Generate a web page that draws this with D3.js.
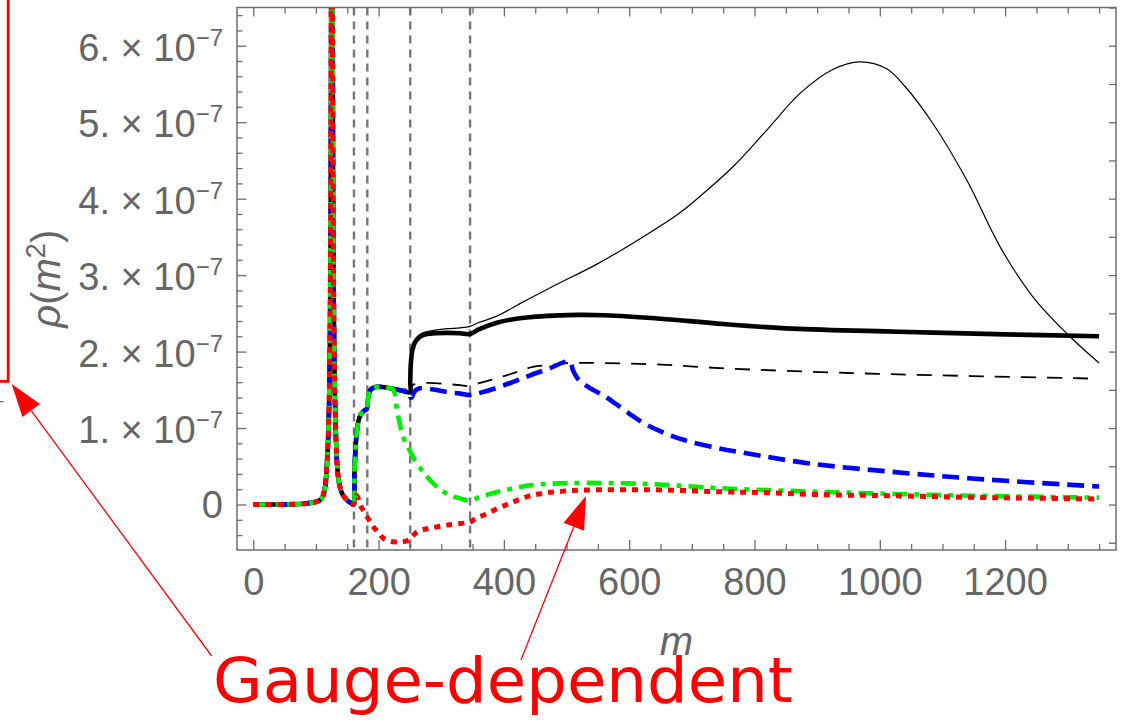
<!DOCTYPE html>
<html><head><meta charset="utf-8">
<script src="https://cdn.jsdelivr.net/npm/d3@7"></script>
<style>body{margin:0;background:#fff}svg{display:block}</style>
</head><body>
<svg id="c" width="1124" height="723"></svg>
<script>
// ---------- data (values of rho in units of 1e-7) ----------
// shared low-m part (all curves coincide up to m = 160)
const spikeM = [0, 40, 80, 95, 105, 110, 112, 115, 117, 119, 121, 122.5, 123.5, 124.5, 125.5, 126.5, 127.5, 128.7, 130, 132, 134, 137, 141, 146, 152, 157, 160];
const spikeV = [0, 0, 0.01, 0.025, 0.05, 0.09, 0.13, 0.25, 0.45, 0.75, 1.3, 2.3, 3.8, 7, 14, 7, 3.8, 2.4, 1.5, 0.85, 0.5, 0.28, 0.16, 0.09, 0.04, 0.015, 0.0];
// shared rise of black / blue curves between m = 160 and 250
const upM = [161.5, 163, 165, 167.5, 171, 176, 181, 182.5, 184, 187, 192, 200, 212, 224, 236, 250];
const upV = [0.4, 0.7, 0.93, 1.08, 1.17, 1.22, 1.25, 1.32, 1.43, 1.50, 1.53, 1.54, 1.53, 1.51, 1.49, 1.47];
// thick solid black
const thickM = [250.5, 251.5, 254, 258, 264, 272, 290, 310, 330, 346, 360, 390, 420, 442, 480, 520, 560, 650, 750, 860, 1030, 1200, 1350];
const thickV = [1.6, 1.85, 2.02, 2.12, 2.18, 2.22, 2.24, 2.245, 2.24, 2.23, 2.29, 2.38, 2.43, 2.45, 2.47, 2.48, 2.475, 2.43, 2.36, 2.30, 2.26, 2.225, 2.20];
// thin solid black
const thinM = [250.5, 251.5, 254, 258, 264, 272, 290, 310, 330, 346, 360, 388, 431, 480, 550, 620, 680, 713, 766, 820, 873, 925, 968, 1011, 1040, 1085, 1139, 1192, 1244, 1298, 1350];
const thinV = [1.6, 1.85, 2.04, 2.15, 2.21, 2.25, 2.28, 2.30, 2.31, 2.33, 2.38, 2.46, 2.65, 2.86, 3.15, 3.49, 3.81, 4.03, 4.42, 4.90, 5.38, 5.69, 5.79, 5.70, 5.47, 4.98, 4.24, 3.37, 2.72, 2.24, 1.85];
// thin dashed black
const dashM = [251, 254, 262, 280, 310, 330, 346, 362, 388, 420, 446, 480, 505, 558, 650, 754, 950, 1147, 1350];
const dashV = [1.52, 1.56, 1.58, 1.59, 1.575, 1.56, 1.55, 1.59, 1.65, 1.73, 1.80, 1.83, 1.85, 1.85, 1.83, 1.78, 1.72, 1.68, 1.645];
// blue dashed
const blueM = [251, 253, 256, 260, 266, 290, 310, 330, 346, 362, 390, 420, 442, 470, 505, 510, 515, 522, 540, 560, 578, 600, 624, 655, 689, 740, 787, 885, 1016, 1147, 1350];
const blueV = [1.40, 1.40, 1.46, 1.50, 1.52, 1.50, 1.47, 1.45, 1.43, 1.46, 1.53, 1.62, 1.69, 1.77, 1.87, 1.76, 1.68, 1.61, 1.51, 1.42, 1.32, 1.19, 1.06, 0.94, 0.84, 0.74, 0.67, 0.54, 0.43, 0.34, 0.235];
// green dot-dashed
const greenM = [161.5, 163, 165, 167.5, 171, 176, 181, 182.5, 184, 187, 192, 200, 212, 222, 226, 229, 234, 239, 250, 261, 272, 282, 298, 314, 330, 346, 362, 388, 420, 446, 505, 624, 754, 951, 1147, 1350];
const greenV = [0.4, 0.7, 0.93, 1.08, 1.17, 1.22, 1.25, 1.32, 1.43, 1.50, 1.53, 1.54, 1.53, 1.515, 1.45, 1.26, 1.05, 0.89, 0.70, 0.54, 0.42, 0.32, 0.20, 0.12, 0.08, 0.05, 0.10, 0.16, 0.22, 0.255, 0.28, 0.27, 0.21, 0.155, 0.115, 0.09];
// red dotted
const redM = [162, 164.5, 167, 170, 175, 183, 191.5, 200, 207.5, 218, 229, 240, 250, 255, 261, 270, 282, 309, 340, 346, 356, 370, 388, 405, 420, 440, 465, 495, 530, 580, 656, 750, 820, 900, 1016, 1147, 1250, 1350];
const redV = [0.07, 0.12, 0.09, 0.0, -0.07, -0.18, -0.29, -0.37, -0.44, -0.48, -0.49, -0.485, -0.46, -0.41, -0.36, -0.33, -0.31, -0.27, -0.24, -0.23, -0.18, -0.13, -0.06, 0.0, 0.05, 0.11, 0.15, 0.175, 0.19, 0.192, 0.19, 0.165, 0.155, 0.13, 0.115, 0.094, 0.082, 0.072];
// vertical threshold lines (m)
const thresholds = [160.7, 182, 250.5, 346];
// tick labels
const xTickValues = [0, 200, 400, 600, 800, 1000, 1200];
const yTickValues = [0, 1, 2, 3, 4, 5, 6];
const yTickMantissa = ["0", "1.", "2.", "3.", "4.", "5.", "6."];
const yTickExponent = "−7";
const xTitle = "m";
const annotationText = "Gauge-dependent";

// ---------- setup ----------
const svg = d3.select("#c");
const L = 237, R = 1116, T = 7.5, B = 550;
const x = d3.scaleLinear().domain([-26, 1377]).range([L, R]);
const y = d3.scaleLinear().domain([-0.595, 6.5]).range([B, T]);
const gray = "#6c6c6c", txt = "#666666";
const tickFont = "'Liberation Sans', Arial, sans-serif";

const zip = (a, b) => a.map((m, i) => [m, b[i]]);
const base = zip(spikeM, spikeV);
const up = zip(upM, upV);
const series = [
  {pts: base.concat(up, zip(thinM, thinV)), color: "#000", w: 1.2, dash: null},
  {pts: base.concat(up, zip(dashM, dashV)), color: "#000", w: 1.8, dash: "15,11"},
  {pts: base.concat(up, zip(thickM, thickV)), color: "#000", w: 4.6, dash: null},
  {pts: base.concat(up, zip(blueM, blueV)), color: "#0000ff", w: 4.6, dash: "17,8"},
  {pts: base.concat(zip(greenM, greenV)), color: "#00ee00", w: 4.6, dash: "15,7,5,7"},
  {pts: base.concat(zip(redM, redV)), color: "#ff0000", w: 5, dash: "6,6"}
];

svg.append("defs").append("clipPath").attr("id", "plot")
  .append("rect").attr("x", L).attr("y", T).attr("width", R - L).attr("height", B - T);

// ---------- threshold lines ----------
svg.append("g").selectAll("line").data(thresholds).join("line")
  .attr("x1", d => x(d)).attr("x2", d => x(d)).attr("y1", T).attr("y2", B)
  .attr("stroke", "#777").attr("stroke-width", 2.4).attr("stroke-dasharray", "8,6");

// ---------- curves ----------
const line = d3.line().x(d => x(d[0])).y(d => y(d[1])).curve(d3.curveCatmullRom.alpha(0.5));
svg.append("g").attr("clip-path", "url(#plot)").selectAll("path").data(series).join("path")
  .attr("d", d => line(d.pts)).attr("fill", "none")
  .attr("stroke", d => d.color).attr("stroke-width", d => d.w)
  .attr("stroke-dasharray", d => d.dash).attr("stroke-linejoin", "round");

// ---------- frame & ticks ----------
const xMinor = d3.range(50, 1351, 50).filter(v => v % 200 !== 0);
const yMinor = d3.range(-0.4, 6.41, 0.2).map(v => +v.toFixed(1)).filter(v => Math.abs(v - Math.round(v)) > 1e-6);
const yRight = d3.range(-0.5, 6.51, 0.5);

function styleAxis(g) {
  g.select(".domain").remove();
  g.selectAll(".tick line").attr("stroke", gray).attr("stroke-width", 1.3);
}
// bottom
svg.append("g").attr("transform", `translate(0,${B})`)
  .call(d3.axisBottom(x).tickValues(xTickValues).tickSize(-10).tickPadding(18).tickFormat(d3.format("d")))
  .call(styleAxis)
  .call(g => g.selectAll("text").attr("fill", txt).attr("font-family", tickFont).attr("font-size", 38));
svg.append("g").attr("transform", `translate(0,${B})`)
  .call(d3.axisBottom(x).tickValues(xMinor).tickSize(-6).tickFormat(""))
  .call(styleAxis);
// top
svg.append("g").attr("transform", `translate(0,${T})`)
  .call(d3.axisTop(x).tickValues(xTickValues).tickSize(-9).tickFormat(""))
  .call(styleAxis);
svg.append("g").attr("transform", `translate(0,${T})`)
  .call(d3.axisTop(x).tickValues(xMinor).tickSize(-6).tickFormat(""))
  .call(styleAxis);
// left
svg.append("g").attr("transform", `translate(${L},0)`)
  .call(d3.axisLeft(y).tickValues(yTickValues).tickSize(-9.5).tickFormat(""))
  .call(styleAxis);
svg.append("g").attr("transform", `translate(${L},0)`)
  .call(d3.axisLeft(y).tickValues(yMinor).tickSize(-5.5).tickFormat(""))
  .call(styleAxis);
// right
svg.append("g").attr("transform", `translate(${R},0)`)
  .call(d3.axisRight(y).tickValues(yRight).tickSize(-7).tickFormat(""))
  .call(styleAxis);
// frame
svg.append("rect").attr("x", L).attr("y", T).attr("width", R - L).attr("height", B - T)
  .attr("fill", "none").attr("stroke", gray).attr("stroke-width", 1.5);

// y tick labels with superscript exponent
const yl = svg.append("g").attr("font-family", tickFont).attr("fill", txt);
yTickValues.forEach((v, i) => {
  const t = yl.append("text").attr("text-anchor", "end").attr("font-size", 38)
    .attr("x", 223).attr("y", y(v) + (v === 0 ? 13 : 15));
  if (v === 0) { t.text(yTickMantissa[i]); return; }
  t.append("tspan").text(yTickMantissa[i] + " × 10");
  t.append("tspan").attr("font-size", 24).attr("dy", -15).text(yTickExponent);
});

// axis titles
svg.append("text").attr("x", (L + R) / 2).attr("y", 655).attr("text-anchor", "middle")
  .attr("font-family", tickFont).attr("font-style", "italic").attr("font-size", 40).attr("fill", txt)
  .text(xTitle);
const yt = svg.append("text").attr("transform", `translate(60,${(T + B) / 2}) rotate(-90)`)
  .attr("text-anchor", "middle").attr("font-family", tickFont).attr("font-size", 40).attr("fill", txt);
yt.append("tspan").attr("font-style", "italic").text("ρ");
yt.append("tspan").text("(");
yt.append("tspan").attr("font-style", "italic").text("m");
yt.append("tspan").attr("font-size", 27).attr("dy", -15).text("2");
yt.append("tspan").attr("dy", 15).text(")");

// ---------- red annotations ----------
const ann = svg.append("g");
ann.append("path").attr("d", "M0,381.3 H8.2 V0").attr("fill", "none").attr("stroke", "#ff0000").attr("stroke-width", 2.8);
ann.append("line").attr("x1", 0).attr("x2", 3.5).attr("y1", 401.7).attr("y2", 401.7).attr("stroke", gray).attr("stroke-width", 1.3);

const arrows = [
  {x1: 211.7, y1: 656, x2: 11.7, y2: 384},
  {x1: 521, y1: 660, x2: 586, y2: 496}
];
arrows.forEach(a => {
  const dx = a.x2 - a.x1, dy = a.y2 - a.y1, len = Math.hypot(dx, dy);
  const ux = dx / len, uy = dy / len, hl = 33, hw = 11;
  const bx = a.x2 - ux * hl, by = a.y2 - uy * hl;
  ann.append("line").attr("x1", a.x1).attr("y1", a.y1).attr("x2", bx).attr("y2", by)
    .attr("stroke", "#ff0000").attr("stroke-width", 1.3);
  ann.append("path").attr("d", `M${a.x2},${a.y2} L${bx - uy * hw},${by + ux * hw} L${bx + uy * hw},${by - ux * hw} Z`)
    .attr("fill", "#ff0000");
});
ann.append("text").attr("x", 213).attr("y", 702).attr("font-family", "'DejaVu Sans', sans-serif")
  .attr("font-size", 62).attr("textLength", 580).attr("lengthAdjust", "spacingAndGlyphs")
  .attr("fill", "#ff0000").text(annotationText);
</script>
</body></html>
